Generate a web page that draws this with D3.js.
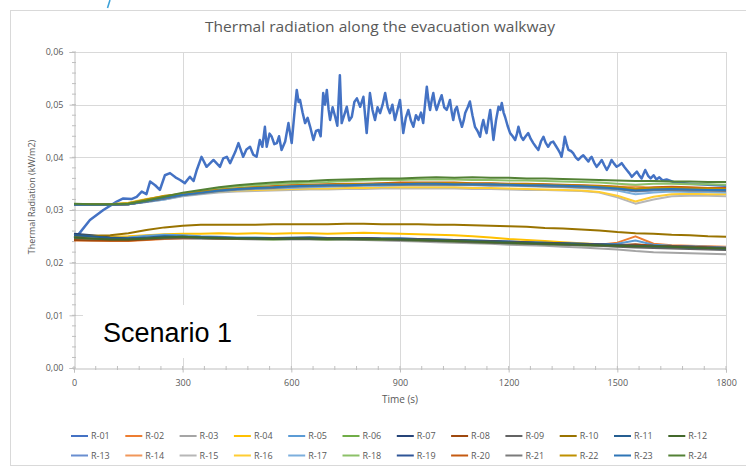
<!DOCTYPE html>
<html><head><meta charset="utf-8">
<script src="https://cdn.jsdelivr.net/npm/d3@7"></script>
<style>body{margin:0;background:#fff}svg{display:block}text{font-family:"Open Sans",sans-serif}</style>
</head><body>
<script>
const titleText = "Thermal radiation along the evacuation walkway";
const xTitle = "Time (s)";
const yTitle = "Thermal Radiation (kW/m2)";
const scenarioLabel = "Scenario 1";
const xTicks = [0,300,600,900,1200,1500,1800];
const yTicks = [0,0.01,0.02,0.03,0.04,0.05,0.06];
const seriesNames = ["R-01","R-02","R-03","R-04","R-05","R-06","R-07","R-08","R-09","R-10","R-11","R-12","R-13","R-14","R-15","R-16","R-17","R-18","R-19","R-20","R-21","R-22","R-23","R-24"];
const seriesColors = ["#4472C4","#ED7D31","#A5A5A5","#FFC000","#5B9BD5","#70AD47","#264478","#9E480E","#636363","#997300","#255E91","#43682B","#698ED0","#F1975A","#B7B7B7","#FFCD33","#7CAFDD","#8CC168","#2F5597","#C55A11","#7B7B7B","#BF9000","#2E75B6","#538135"];

// R-01 (own time base)
const r01Time = [0,7,44,81,118,136,160,173,187,200,210,224,237,251,265,280,293,306,320,330,339,352,366,385,403,412,422,431,445,454,467,476,486,495,504,513,520,527,532,540,546,553,560,566,573,583,592,601,608,615,620,624,631,638,645,652,661,668,675,681,688,693,698,703,707,714,721,727,734,739,746,753,760,767,774,781,790,799,808,817,824,831,838,845,852,859,866,872,879,886,893,900,909,916,923,930,937,944,951,958,964,969,974,979,983,988,992,997,1001,1008,1015,1022,1029,1034,1038,1043,1047,1052,1057,1064,1071,1076,1080,1087,1093,1100,1107,1114,1121,1126,1130,1135,1139,1144,1149,1154,1158,1165,1172,1177,1181,1186,1190,1197,1204,1211,1218,1223,1227,1234,1240,1247,1254,1261,1268,1275,1282,1289,1296,1302,1309,1316,1323,1330,1337,1342,1346,1351,1355,1360,1365,1372,1378,1385,1392,1399,1406,1413,1420,1425,1429,1436,1443,1450,1457,1464,1471,1478,1484,1491,1498,1505,1512,1519,1526,1533,1540,1547,1554,1560,1567,1572,1577,1585,1592,1600,1608,1616,1625,1636,1660,1700,1750,1800];
const r01Val = [0.0247,0.0249,0.0281,0.0300,0.0316,0.0322,0.0321,0.0325,0.0335,0.0330,0.0354,0.0347,0.0338,0.0366,0.0370,0.0362,0.0357,0.0351,0.0363,0.0355,0.0376,0.0401,0.0382,0.0395,0.0382,0.0398,0.0401,0.0389,0.0410,0.0427,0.0401,0.0415,0.0420,0.0405,0.0401,0.0433,0.0420,0.0458,0.0420,0.0445,0.0439,0.0425,0.0427,0.0440,0.0414,0.0430,0.0465,0.0427,0.0480,0.0528,0.0505,0.0509,0.0485,0.0465,0.0475,0.0458,0.0433,0.0450,0.0452,0.0440,0.0522,0.0500,0.0528,0.0490,0.0471,0.0495,0.0477,0.0460,0.0556,0.0465,0.0480,0.0496,0.0470,0.0477,0.0505,0.0512,0.0496,0.0515,0.0446,0.0522,0.0490,0.0471,0.0495,0.0484,0.0500,0.0522,0.0495,0.0484,0.0500,0.0471,0.0490,0.0509,0.0446,0.0475,0.0490,0.0470,0.0458,0.0480,0.0471,0.0485,0.0465,0.0500,0.0534,0.0505,0.0490,0.0510,0.0522,0.0500,0.0490,0.0505,0.0518,0.0495,0.0490,0.0500,0.0509,0.0485,0.0471,0.0490,0.0496,0.0475,0.0458,0.0470,0.0484,0.0495,0.0506,0.0480,0.0458,0.0450,0.0439,0.0460,0.0471,0.0455,0.0446,0.0470,0.0490,0.0460,0.0433,0.0470,0.0496,0.0490,0.0503,0.0485,0.0477,0.0460,0.0446,0.0440,0.0433,0.0445,0.0458,0.0440,0.0433,0.0440,0.0446,0.0435,0.0427,0.0420,0.0414,0.0430,0.0439,0.0428,0.0420,0.0428,0.0430,0.0422,0.0414,0.0408,0.0401,0.0420,0.0439,0.0425,0.0414,0.0412,0.0408,0.0400,0.0395,0.0400,0.0404,0.0398,0.0392,0.0398,0.0401,0.0390,0.0382,0.0388,0.0395,0.0385,0.0376,0.0385,0.0395,0.0388,0.0382,0.0385,0.0389,0.0382,0.0376,0.0370,0.0363,0.0368,0.0373,0.0366,0.0360,0.0368,0.0376,0.0365,0.0360,0.0366,0.0358,0.0362,0.0356,0.0358,0.0352,0.0350,0.0348,0.0346];

// Shared time base for R-02 .. R-24
const timeS = [0,50,100,150,200,250,300,350,400,450,500,550,600,650,700,750,800,850,900,950,1000,1050,1100,1150,1200,1250,1300,1350,1400,1450,1500,1550,1600,1650,1700,1750,1800];
const r02 = [0.0242,0.0242,0.0241,0.0241,0.0243,0.0245,0.0246,0.0246,0.0246,0.0246,0.0245,0.0245,0.0246,0.0246,0.0246,0.0245,0.0245,0.0245,0.0245,0.0244,0.0243,0.0242,0.0241,0.0240,0.0239,0.0238,0.0237,0.0236,0.0235,0.0234,0.0238,0.0250,0.0236,0.0233,0.0232,0.0231,0.0230];
const r03 = [0.0245,0.0244,0.0244,0.0244,0.0245,0.0246,0.0246,0.0245,0.0245,0.0245,0.0244,0.0244,0.0244,0.0244,0.0243,0.0243,0.0243,0.0242,0.0241,0.0240,0.0239,0.0238,0.0237,0.0236,0.0234,0.0233,0.0232,0.0230,0.0229,0.0227,0.0225,0.0222,0.0220,0.0219,0.0218,0.0217,0.0216];
const r04 = [0.0250,0.0250,0.0249,0.0250,0.0252,0.0254,0.0255,0.0255,0.0256,0.0255,0.0256,0.0255,0.0256,0.0256,0.0255,0.0256,0.0257,0.0256,0.0255,0.0254,0.0253,0.0252,0.0250,0.0248,0.0245,0.0243,0.0241,0.0239,0.0237,0.0235,0.0234,0.0232,0.0231,0.0229,0.0228,0.0227,0.0226];
const r05 = [0.0250,0.0249,0.0247,0.0248,0.0251,0.0253,0.0252,0.0250,0.0249,0.0248,0.0248,0.0247,0.0248,0.0248,0.0247,0.0247,0.0247,0.0246,0.0246,0.0245,0.0244,0.0243,0.0242,0.0241,0.0240,0.0239,0.0238,0.0237,0.0236,0.0235,0.0236,0.0242,0.0234,0.0232,0.0231,0.0230,0.0229];
const r06 = [0.0246,0.0245,0.0243,0.0243,0.0245,0.0247,0.0248,0.0247,0.0246,0.0245,0.0245,0.0244,0.0245,0.0245,0.0244,0.0245,0.0244,0.0243,0.0243,0.0242,0.0241,0.0240,0.0239,0.0238,0.0237,0.0236,0.0235,0.0234,0.0233,0.0232,0.0231,0.0233,0.0230,0.0229,0.0228,0.0227,0.0226];
const r07 = [0.0255,0.0252,0.0248,0.0246,0.0247,0.0248,0.0249,0.0248,0.0248,0.0247,0.0247,0.0247,0.0247,0.0248,0.0247,0.0247,0.0247,0.0246,0.0246,0.0245,0.0244,0.0243,0.0242,0.0241,0.0240,0.0239,0.0238,0.0237,0.0236,0.0235,0.0234,0.0233,0.0232,0.0231,0.0230,0.0229,0.0228];
const r08 = [0.0243,0.0242,0.0242,0.0242,0.0244,0.0246,0.0247,0.0247,0.0246,0.0246,0.0246,0.0246,0.0246,0.0246,0.0246,0.0246,0.0246,0.0245,0.0245,0.0244,0.0243,0.0242,0.0241,0.0240,0.0239,0.0238,0.0237,0.0236,0.0235,0.0234,0.0233,0.0235,0.0232,0.0231,0.0230,0.0229,0.0228];
const r09 = [0.0247,0.0246,0.0245,0.0245,0.0246,0.0247,0.0248,0.0247,0.0246,0.0246,0.0245,0.0245,0.0245,0.0245,0.0245,0.0245,0.0244,0.0244,0.0243,0.0242,0.0241,0.0240,0.0239,0.0238,0.0237,0.0236,0.0235,0.0234,0.0233,0.0232,0.0230,0.0229,0.0228,0.0227,0.0226,0.0225,0.0224];
const r10 = [0.0251,0.0251,0.0252,0.0256,0.0262,0.0267,0.0270,0.0272,0.0272,0.0272,0.0272,0.0273,0.0273,0.0273,0.0273,0.0274,0.0274,0.0273,0.0273,0.0273,0.0272,0.0272,0.0271,0.0270,0.0269,0.0268,0.0266,0.0265,0.0263,0.0261,0.0258,0.0256,0.0255,0.0253,0.0252,0.0250,0.0249];
const r11 = [0.0252,0.0250,0.0247,0.0246,0.0248,0.0250,0.0249,0.0248,0.0247,0.0247,0.0247,0.0246,0.0246,0.0247,0.0246,0.0246,0.0246,0.0245,0.0245,0.0244,0.0243,0.0242,0.0241,0.0240,0.0239,0.0238,0.0237,0.0236,0.0235,0.0234,0.0233,0.0232,0.0231,0.0230,0.0229,0.0228,0.0227];
const r12 = [0.0248,0.0246,0.0244,0.0244,0.0246,0.0248,0.0249,0.0248,0.0247,0.0246,0.0246,0.0245,0.0246,0.0246,0.0245,0.0246,0.0245,0.0245,0.0244,0.0243,0.0242,0.0241,0.0240,0.0239,0.0238,0.0237,0.0236,0.0235,0.0234,0.0233,0.0232,0.0231,0.0231,0.0230,0.0229,0.0228,0.0227];
const r13 = [0.0311,0.0311,0.0310,0.0311,0.0316,0.0321,0.0328,0.0332,0.0336,0.0339,0.0341,0.0343,0.0344,0.0345,0.0346,0.0347,0.0348,0.0348,0.0349,0.0349,0.0349,0.0349,0.0349,0.0348,0.0348,0.0347,0.0346,0.0345,0.0344,0.0342,0.0340,0.0335,0.0337,0.0338,0.0337,0.0336,0.0336];
const r14 = [0.0311,0.0310,0.0310,0.0312,0.0319,0.0325,0.0330,0.0333,0.0337,0.0340,0.0342,0.0344,0.0345,0.0346,0.0347,0.0348,0.0349,0.0350,0.0350,0.0351,0.0351,0.0350,0.0350,0.0350,0.0349,0.0349,0.0348,0.0347,0.0346,0.0345,0.0344,0.0345,0.0342,0.0341,0.0341,0.0340,0.0340];
const r15 = [0.0310,0.0310,0.0310,0.0311,0.0315,0.0320,0.0326,0.0330,0.0333,0.0335,0.0336,0.0337,0.0338,0.0339,0.0339,0.0340,0.0340,0.0341,0.0341,0.0341,0.0341,0.0341,0.0340,0.0340,0.0339,0.0338,0.0338,0.0337,0.0336,0.0333,0.0324,0.0312,0.0320,0.0326,0.0327,0.0327,0.0326];
const r16 = [0.0311,0.0311,0.0311,0.0314,0.0321,0.0326,0.0329,0.0332,0.0335,0.0337,0.0338,0.0339,0.0340,0.0341,0.0341,0.0342,0.0342,0.0343,0.0343,0.0343,0.0343,0.0343,0.0342,0.0342,0.0341,0.0340,0.0339,0.0338,0.0337,0.0334,0.0327,0.0316,0.0325,0.0330,0.0331,0.0330,0.0330];
const r17 = [0.0311,0.0311,0.0310,0.0311,0.0315,0.0320,0.0327,0.0331,0.0335,0.0338,0.0340,0.0341,0.0342,0.0343,0.0344,0.0345,0.0346,0.0346,0.0347,0.0347,0.0347,0.0347,0.0347,0.0346,0.0346,0.0345,0.0344,0.0343,0.0342,0.0340,0.0337,0.0330,0.0333,0.0335,0.0334,0.0334,0.0333];
const r18 = [0.0311,0.0311,0.0310,0.0313,0.0320,0.0326,0.0331,0.0336,0.0341,0.0345,0.0347,0.0349,0.0351,0.0352,0.0353,0.0355,0.0356,0.0357,0.0357,0.0358,0.0358,0.0358,0.0357,0.0357,0.0356,0.0356,0.0355,0.0354,0.0353,0.0352,0.0350,0.0348,0.0350,0.0350,0.0349,0.0349,0.0348];
const r19 = [0.0310,0.0310,0.0310,0.0311,0.0316,0.0322,0.0329,0.0333,0.0337,0.0340,0.0342,0.0344,0.0345,0.0346,0.0347,0.0348,0.0348,0.0349,0.0349,0.0350,0.0350,0.0350,0.0349,0.0349,0.0348,0.0348,0.0347,0.0346,0.0345,0.0344,0.0342,0.0338,0.0340,0.0340,0.0339,0.0339,0.0338];
const r20 = [0.0310,0.0310,0.0310,0.0311,0.0317,0.0324,0.0330,0.0334,0.0338,0.0341,0.0343,0.0345,0.0347,0.0348,0.0349,0.0350,0.0350,0.0351,0.0352,0.0352,0.0352,0.0352,0.0351,0.0351,0.0350,0.0350,0.0349,0.0348,0.0347,0.0346,0.0344,0.0340,0.0343,0.0344,0.0343,0.0342,0.0342];
const r21 = [0.0310,0.0310,0.0310,0.0311,0.0316,0.0322,0.0328,0.0332,0.0336,0.0339,0.0341,0.0342,0.0344,0.0345,0.0346,0.0346,0.0347,0.0348,0.0348,0.0348,0.0348,0.0348,0.0348,0.0347,0.0347,0.0346,0.0345,0.0344,0.0343,0.0342,0.0340,0.0336,0.0338,0.0338,0.0337,0.0337,0.0336];
const r22 = [0.0311,0.0311,0.0311,0.0313,0.0320,0.0327,0.0331,0.0334,0.0338,0.0341,0.0343,0.0344,0.0346,0.0347,0.0348,0.0349,0.0349,0.0350,0.0350,0.0351,0.0351,0.0351,0.0350,0.0350,0.0349,0.0349,0.0348,0.0347,0.0346,0.0345,0.0343,0.0341,0.0342,0.0342,0.0341,0.0341,0.0340];
const r23 = [0.0310,0.0310,0.0310,0.0311,0.0317,0.0323,0.0329,0.0333,0.0337,0.0340,0.0342,0.0343,0.0345,0.0346,0.0347,0.0347,0.0348,0.0349,0.0349,0.0350,0.0350,0.0349,0.0349,0.0349,0.0348,0.0347,0.0347,0.0346,0.0345,0.0343,0.0341,0.0337,0.0339,0.0340,0.0339,0.0338,0.0338];
const r24 = [0.0312,0.0311,0.0311,0.0312,0.0318,0.0325,0.0333,0.0338,0.0343,0.0347,0.0350,0.0352,0.0354,0.0355,0.0357,0.0358,0.0359,0.0360,0.0360,0.0361,0.0362,0.0361,0.0362,0.0361,0.0361,0.0360,0.0360,0.0359,0.0358,0.0357,0.0356,0.0355,0.0355,0.0354,0.0354,0.0353,0.0353];

const W = 746, H = 471;
const margin = {left:74, right:20, top:52, bottom:103};
const svg = d3.select("body").append("svg").attr("width", W).attr("height", H);

// chart frame
svg.append("rect").attr("x",10.5).attr("y",10.5).attr("width",760).attr("height",455)
  .attr("fill","#fff").attr("stroke","#d9d9d9");
// slide artifact
svg.append("line").attr("x1",110).attr("y1",0).attr("x2",107.5).attr("y2",8)
  .attr("stroke","#3aa0d8").attr("stroke-width",1.5);

const x = d3.scaleLinear().domain([0,1800]).range([margin.left, W - margin.right]);
const y = d3.scaleLinear().domain([0,0.06]).range([H - margin.bottom, margin.top]);

// gridlines
svg.append("g").selectAll("line.h").data(yTicks.filter(d=>d>0)).join("line")
  .attr("x1",x(0)).attr("x2",x(1800)).attr("y1",d=>Math.round(y(d))+0.5).attr("y2",d=>Math.round(y(d))+0.5)
  .attr("stroke","#d9d9d9");
svg.append("g").selectAll("line.v").data(xTicks.filter(d=>d>0)).join("line")
  .attr("y1",y(0)).attr("y2",y(0.06)).attr("x1",d=>Math.round(x(d))+0.5).attr("x2",d=>Math.round(x(d))+0.5)
  .attr("stroke","#d9d9d9");

// axes
const fmtY = d => d3.format(".2f")(d).replace(".", ",");
const xAxis = svg.append("g").attr("transform",`translate(0,${Math.round(y(0))+0.5})`)
  .call(d3.axisBottom(x).tickValues(xTicks).tickSize(4).tickPadding(7).tickFormat(d3.format("d")));
const yAxis = svg.append("g").attr("transform",`translate(${Math.round(x(0))+0.5},0)`)
  .call(d3.axisLeft(y).tickValues(yTicks).tickSize(5).tickPadding(6).tickFormat(fmtY));
[xAxis,yAxis].forEach(g=>{
  g.select(".domain").attr("stroke","#bfbfbf");
  g.selectAll(".tick line").attr("stroke","#bfbfbf");
  g.selectAll(".tick text").attr("fill","#595959").style("font-size","9px").style("font-family","Open Sans, sans-serif");
});
// minor ticks
const xMinor = d3.range(0,1801,60);
svg.append("g").selectAll("line").data(xMinor).join("line")
  .attr("x1",d=>x(d)).attr("x2",d=>x(d)).attr("y1",y(0)-2).attr("y2",y(0)+2).attr("stroke","#bfbfbf");
const yMinor = d3.range(0,0.0601,0.002);
svg.append("g").selectAll("line").data(yMinor).join("line")
  .attr("y1",d=>y(d)).attr("y2",d=>y(d)).attr("x1",x(0)-2).attr("x2",x(0)+2).attr("stroke","#bfbfbf");

// series
const allSeries = [r02,r03,r04,r05,r06,r07,r08,r09,r10,r11,r12,r13,r14,r15,r16,r17,r18,r19,r20,r21,r22,r23,r24];
const line = d3.line().x(d=>x(d[0])).y(d=>y(d[1]));
const gLines = svg.append("g");
gLines.append("path").datum(r01Time.map((t,i)=>[t,r01Val[i]]))
  .attr("d",line).attr("fill","none").attr("stroke",seriesColors[0]).attr("stroke-width",2.5).attr("stroke-linejoin","round");
allSeries.forEach((vals,i)=>{
  gLines.append("path").datum(timeS.map((t,j)=>[t,vals[j]]))
    .attr("d",line).attr("fill","none").attr("stroke",seriesColors[i+1]).attr("stroke-width",2).attr("stroke-linejoin","round");
});

// title
svg.append("text").attr("x",380).attr("y",32).attr("text-anchor","middle")
  .attr("fill","#595959").style("font-size","14.5px")
  .attr("textLength",350).attr("lengthAdjust","spacingAndGlyphs").text(titleText);
// axis titles
svg.append("text").attr("x",x(900)).attr("y",403).attr("text-anchor","middle")
  .attr("fill","#595959").style("font-size","10px").text(xTitle);
svg.append("text").attr("transform",`translate(35,197) rotate(-90)`).attr("text-anchor","middle")
  .attr("fill","#595959").style("font-size","9px").text(yTitle);

// scenario label
svg.append("rect").attr("x",83).attr("y",305).attr("width",174).attr("height",53).attr("fill","#fff");
svg.append("text").attr("x",103).attr("y",342).style("font-family","Liberation Sans, Arial, sans-serif")
  .style("font-size","27px").attr("fill","#000").text(scenarioLabel);

// legend
const leg = svg.append("g");
seriesNames.forEach((n,i)=>{
  const row = Math.floor(i/12), col = i%12;
  const lx = 71 + col*54.3, ly = 436 + row*19.5;
  leg.append("line").attr("x1",lx).attr("x2",lx+17).attr("y1",ly).attr("y2",ly)
    .attr("stroke",seriesColors[i]).attr("stroke-width",2);
  leg.append("text").attr("x",lx+20).attr("y",ly+3.2).attr("fill","#595959")
    .style("font-size","9px").text(n);
});
</script>
</body></html>
